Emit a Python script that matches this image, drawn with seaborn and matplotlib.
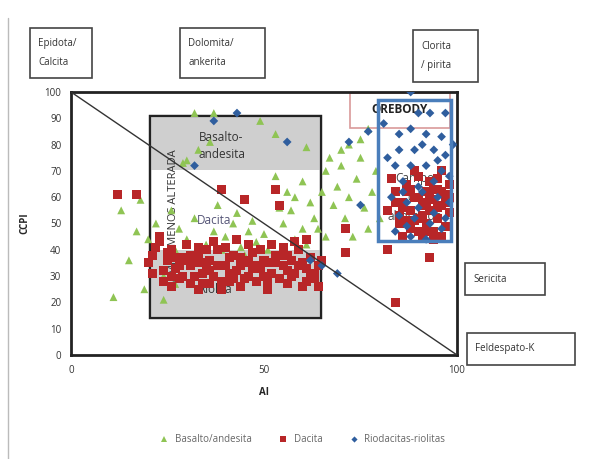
import matplotlib
matplotlib.use("Agg")
import matplotlib.pyplot as plt
import matplotlib.patches as mpatches
import seaborn as sns
import pandas as pd

# ---- data (AI, CCPI) ----
basalto_ai = [13, 18, 11, 19, 24, 15, 20, 22, 17,
              32, 37, 36, 29, 30, 33, 49, 53, 61, 72, 75, 77,
              26, 28, 30, 32, 35, 37, 39, 40, 42, 44, 45, 46, 48, 50, 51, 38, 33, 27, 43, 47,
              53, 56, 57, 58, 60, 62, 63, 64, 65, 66, 68, 69, 70, 71, 72, 73, 74, 75, 76, 77,
              78, 79, 80, 66, 60, 55, 58, 61, 54, 67, 70, 24, 27]
basalto_ccpi = [55, 59, 22, 25, 21, 36, 44, 50, 47,
                92, 92, 81, 73, 74, 78, 89, 84, 79, 80, 82, 86,
                55, 48, 44, 52, 42, 47, 40, 45, 50, 41, 38, 47, 43, 46, 40, 57, 40, 40, 54, 51,
                68, 62, 55, 60, 66, 58, 52, 48, 62, 70, 57, 64, 72, 52, 60, 45, 67, 75, 56, 48,
                62, 70, 52, 45, 48, 50, 44, 42, 56, 75, 78, 30, 27]

dacita_ai = [12, 17, 39, 45, 53, 54, 71, 71, 82, 93, 84,
             20, 21, 22, 23, 24, 25, 26, 27, 28, 29, 30, 31, 32, 33, 34, 35, 36, 37, 38, 39,
             40, 41, 42, 43, 44, 45, 46, 47, 48, 49, 50, 51, 52, 53, 54, 55, 56, 57, 58, 59,
             60, 61, 62, 63, 64, 24, 26, 29, 31, 33, 35, 37, 40, 43, 46, 49, 52, 55, 58, 61,
             30, 36, 42, 48, 54, 60, 50, 44, 34, 57,
             21, 23, 25, 27, 28, 32, 34, 38, 39, 41, 45, 47, 51, 53, 56, 59, 62, 63, 65, 64,
             26, 31, 36, 41, 46, 51, 56, 61, 33, 44,
             82, 84, 85, 86, 87, 88, 88, 89, 90, 90, 91, 91, 92, 92, 93, 93, 94, 94, 95, 95,
             96, 96, 97, 97, 98, 98, 86, 89, 83, 90, 94, 96, 85, 87, 92, 95,
             88, 91, 93, 95, 97, 89, 94, 96, 90, 86, 84, 98, 92, 87]
dacita_ccpi = [61, 61, 63, 59, 63, 57, 48, 39, 40, 37, 20,
               35, 38, 41, 45, 32, 36, 40, 33, 29, 37, 42, 34, 30, 38, 27, 33, 36, 30, 40, 25,
               34, 28, 38, 32, 26, 35, 30, 39, 28, 33, 36, 25, 31, 38, 29, 34, 27, 36, 31, 40,
               26, 33, 37, 29, 34, 28, 26, 30, 27, 25, 40, 43, 41, 44, 42, 40, 42, 41, 43, 44,
               36, 32, 29, 34, 38, 35, 30, 37, 35, 30,
               31, 43, 39, 37, 34, 35, 31, 34, 28, 31, 29, 33, 28, 35, 32, 34, 30, 31, 36, 26,
               30, 38, 27, 37, 36, 35, 38, 28, 41, 34,
               55, 62, 50, 58, 65, 48, 55, 60, 52, 68, 45, 57, 62, 50, 55, 66, 47, 59, 52, 63,
               57, 70, 49, 61, 54, 65, 45, 70, 67, 47, 44, 45, 53, 51, 58, 67,
               63, 53, 60, 56, 58, 51, 63, 62, 60, 56, 58, 60, 47, 62]

riod_ai = [37, 43, 56, 32, 69, 62, 65, 72, 77, 75, 88,
           90, 93, 97, 88, 92, 96, 85, 89, 94, 97, 84, 88, 92, 96, 86, 90, 94, 98, 83, 87,
           91, 95, 85, 89, 93, 97, 84, 88, 92, 96, 81, 85, 99, 91, 95, 82, 86, 90, 94, 98, 87]
riod_ccpi = [89, 92, 81, 72, 31, 36, 34, 81, 85, 57, 100,
             92, 92, 92, 86, 84, 83, 78, 78, 78, 76, 72, 72, 72, 70, 66, 64, 66, 68, 60, 58,
             62, 60, 53, 52, 50, 52, 47, 45, 44, 48, 88, 84, 80, 80, 74, 75, 62, 56, 54, 58, 49]

series_names = ["Basalto/andesita", "Dacita", "Riodacitas-riolitas"]
x_ticks = [0, 50, 100]
y_ticks = [0, 10, 20, 30, 40, 50, 60, 70, 80, 90, 100]

df = pd.DataFrame({
    "AI": basalto_ai + dacita_ai + riod_ai,
    "CCPI": basalto_ccpi + dacita_ccpi + riod_ccpi,
    "tipo": [series_names[0]] * len(basalto_ai) + [series_names[1]] * len(dacita_ai)
            + [series_names[2]] * len(riod_ai),
})

sns.set_theme(style="white")
plt.rcParams["font.family"] = ["Open Sans", "DejaVu Sans"]

W, H = 603, 459
fig = plt.figure(figsize=(W / 100, H / 100), dpi=100)
ax = fig.add_axes([71 / W, 1 - 355 / H, (457 - 71) / W, (355 - 92) / H])

# alteration box
ax.add_patch(mpatches.Rectangle((20.5, 14), 44.3, 77, facecolor="white",
                                edgecolor="#222222", lw=1.6, zorder=1))
ax.add_patch(mpatches.Rectangle((20.5, 70.3), 44.3, 20.7, facecolor="#cfcfcf",
                                edgecolor="none", zorder=1.1))
ax.add_patch(mpatches.Rectangle((20.5, 14), 44.3, 26, facecolor="#cfcfcf",
                                edgecolor="none", zorder=1.1))
ax.add_patch(mpatches.Rectangle((20.5, 14), 44.3, 77, facecolor="none",
                                edgecolor="#222222", lw=1.6, zorder=1.2))
# orebody box
ax.add_patch(mpatches.Rectangle((72.3, 86.3), 25.9, 13.5, facecolor="white",
                                edgecolor="#d99a9a", lw=1.2, zorder=1))
ax.text(85, 93.5, "OREBODY", ha="center", va="center", fontsize=8.5,
        fontweight="bold", color="#222222", zorder=1.5)

ax.text(39, 79.5, "Basalto-\nandesita", ha="center", va="center", fontsize=8.5,
        color="#333333", zorder=1.5, linespacing=1.4)
ax.text(37, 51, "Dacita", ha="center", va="center", fontsize=8.5,
        color="#555577", zorder=1.5)
ax.text(37.5, 25, "Riolita", ha="center", va="center", fontsize=8.5,
        color="#333333", zorder=1.5)
ax.text(26.5, 52, "CAMPO MENOS ALTERADA", ha="center", va="center", fontsize=8,
        rotation=90, color="#333333", zorder=1.5)
ax.text(89, 60, "Campo\nde\nalteración", ha="center", va="center", fontsize=8.5,
        color="#444444", zorder=1.5, linespacing=1.6)

palette = {series_names[0]: "#8fc454", series_names[1]: "#b82628",
           series_names[2]: "#2f5e9e"}
markers = {series_names[0]: "^", series_names[1]: "s", series_names[2]: "D"}
sizes = {series_names[0]: 32, series_names[1]: 42, series_names[2]: 20}
sns.scatterplot(data=df, x="AI", y="CCPI", hue="tipo", style="tipo", size="tipo",
                palette=palette, markers=markers, sizes=sizes, linewidth=0,
                ax=ax, zorder=3)

# diagonal line
ax.plot([0, 100], [100, 0], color="#333333", lw=1.0, zorder=4)

# blue rectangle
ax.add_patch(mpatches.Rectangle((79.5, 43.3), 18.9, 53.7, facecolor="none",
                                edgecolor="#4a7ebb", lw=2.5, zorder=5))

ax.set_xlim(0, 100)
ax.set_ylim(0, 100)
ax.set_xticks(x_ticks)
ax.set_yticks(y_ticks)
ax.tick_params(axis="both", labelsize=7, colors="#333333", length=0, pad=7)
ax.set_xlabel("AI", fontsize=7, fontweight="bold", labelpad=8)
ax.set_ylabel("CCPI", fontsize=7, fontweight="bold", labelpad=10)
for sp in ax.spines.values():
    sp.set_visible(True)
    sp.set_color("#222222")
    sp.set_linewidth(2)

sns.move_legend(ax, "center", bbox_to_anchor=(300 / W, 1 - 440 / H),
                bbox_transform=fig.transFigure, ncol=3, frameon=False,
                title=None, fontsize=7, handletextpad=0.1, columnspacing=2.2,
                markerscale=0.7)
for t in ax.get_legend().get_texts():
    t.set_color("#666666")

# outer label boxes
def label_box(x0, y0, x1, y1, text):
    fig.patches.append(mpatches.Rectangle((x0 / W, 1 - y1 / H), (x1 - x0) / W,
                                          (y1 - y0) / H, transform=fig.transFigure,
                                          facecolor="white", edgecolor="#444444", lw=1.2))
    fig.text((x0 + 8) / W, 1 - ((y0 + y1) / 2) / H, text, ha="left", va="center",
             fontsize=7, color="#333333", linespacing=1.9)

label_box(30, 28, 92, 78, "Epidota/\nCalcita")
label_box(180, 28, 265, 78, "Dolomita/\nankerita")
label_box(413, 30, 478, 82, "Clorita\n/ pirita")
label_box(465, 263, 545, 295, "Sericita")
label_box(467, 333, 575, 365, "Feldespato-K")

# faint outer frame line on the left
fig.add_artist(plt.Line2D([8 / W, 8 / W], [0, 1 - 18 / H], transform=fig.transFigure,
                          color="#bbbbbb", lw=1))

fig.savefig("out.png", dpi=100)
